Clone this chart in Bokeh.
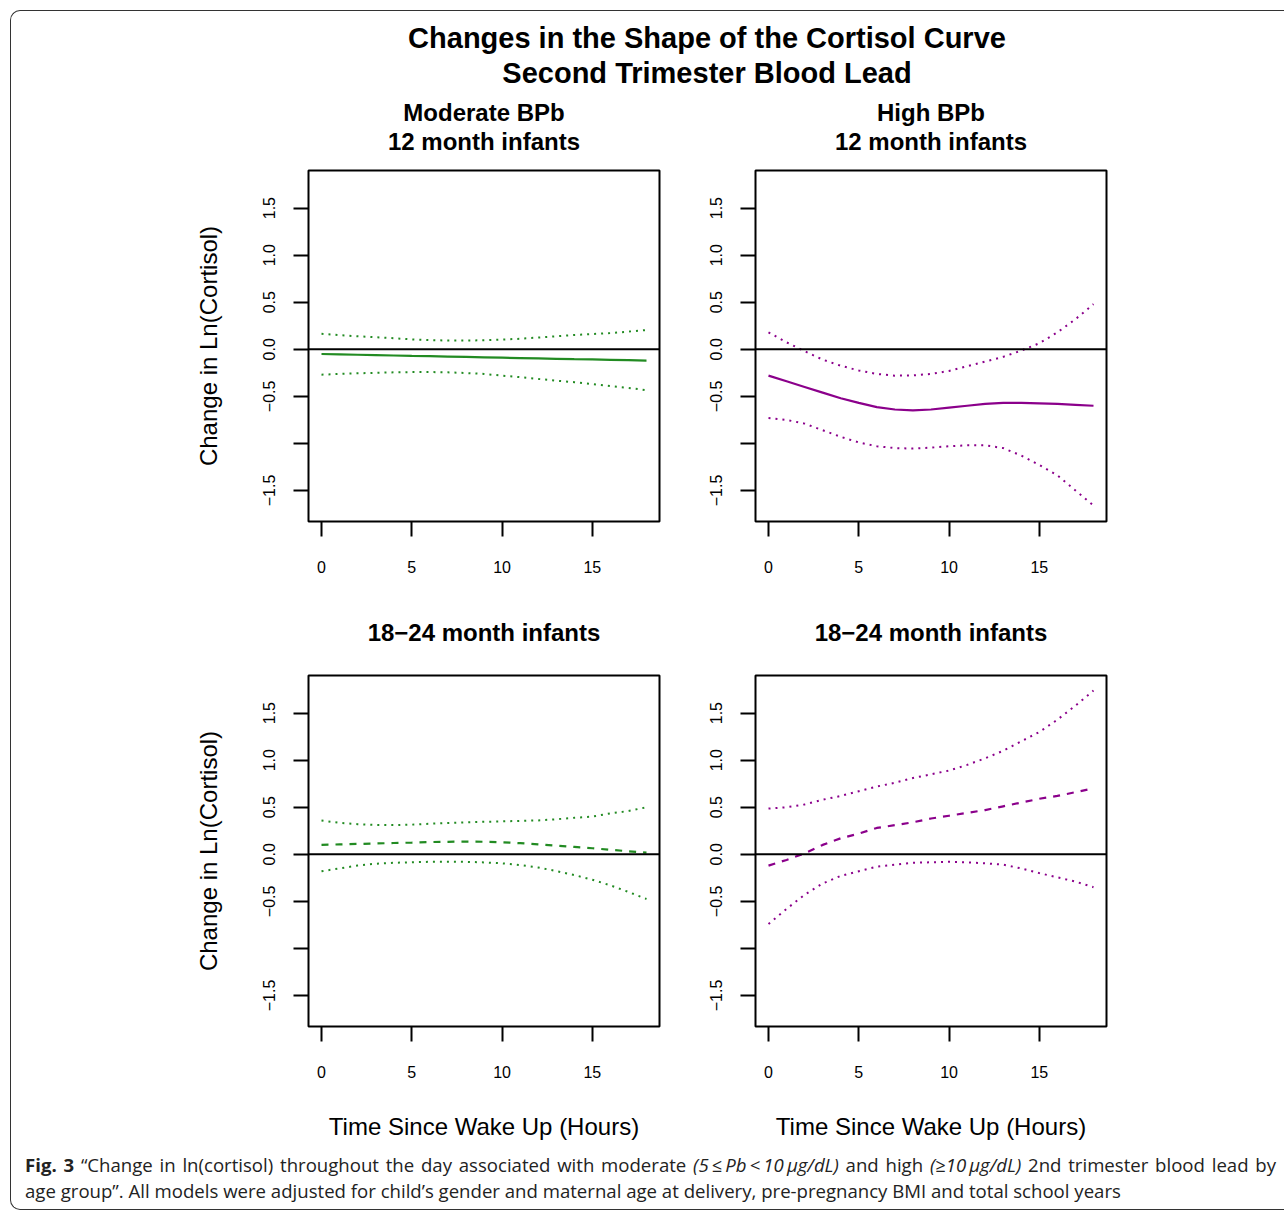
from bokeh.plotting import figure
from bokeh.models import Range1d, Title, Div, FixedTicker, Span
from bokeh.layouts import column, row
from bokeh.embed import file_html
from bokeh.resources import INLINE

# ---------------- data ----------------
hours = list(range(19))

# Moderate BPb, 12 month infants (green, solid fit)
mod12_fit = [-0.050, -0.054, -0.058, -0.062, -0.066, -0.070, -0.073, -0.077, -0.081, -0.085,
             -0.089, -0.093, -0.097, -0.101, -0.105, -0.108, -0.112, -0.116, -0.120]
mod12_hi = [0.165, 0.150, 0.138, 0.128, 0.118, 0.105, 0.098, 0.093, 0.093, 0.096,
            0.103, 0.112, 0.125, 0.138, 0.152, 0.162, 0.172, 0.188, 0.205]
mod12_lo = [-0.270, -0.262, -0.255, -0.250, -0.245, -0.242, -0.242, -0.245, -0.252, -0.262,
            -0.280, -0.296, -0.315, -0.333, -0.350, -0.370, -0.390, -0.410, -0.435]

# High BPb, 12 month infants (purple, solid fit)
high12_fit = [-0.280, -0.340, -0.400, -0.460, -0.520, -0.570, -0.615, -0.640, -0.650, -0.640,
              -0.620, -0.600, -0.580, -0.570, -0.570, -0.575, -0.580, -0.590, -0.600]
high12_hi = [0.180, 0.074, -0.020, -0.110, -0.175, -0.225, -0.262, -0.280, -0.278, -0.262,
             -0.230, -0.180, -0.130, -0.080, -0.014, 0.064, 0.180, 0.320, 0.480]
high12_lo = [-0.730, -0.750, -0.790, -0.860, -0.930, -0.990, -1.030, -1.050, -1.055, -1.045,
             -1.030, -1.020, -1.020, -1.050, -1.130, -1.230, -1.340, -1.500, -1.660]

# Moderate BPb, 18-24 month infants (green, dashed fit)
mod24_fit = [0.100, 0.105, 0.110, 0.115, 0.120, 0.124, 0.130, 0.133, 0.135, 0.133,
             0.128, 0.118, 0.106, 0.092, 0.078, 0.064, 0.048, 0.032, 0.018]
mod24_hi = [0.358, 0.335, 0.320, 0.312, 0.310, 0.315, 0.325, 0.333, 0.340, 0.345,
            0.350, 0.355, 0.360, 0.372, 0.388, 0.400, 0.435, 0.460, 0.500]
mod24_lo = [-0.180, -0.150, -0.120, -0.100, -0.090, -0.085, -0.080, -0.078, -0.080, -0.086,
            -0.096, -0.115, -0.140, -0.178, -0.220, -0.270, -0.330, -0.400, -0.475]

# High BPb, 18-24 month infants (purple, dashed fit)
high24_fit = [-0.120, -0.060, 0.010, 0.100, 0.170, 0.220, 0.280, 0.310, 0.340, 0.380,
              0.410, 0.440, 0.470, 0.510, 0.550, 0.590, 0.620, 0.660, 0.700]
high24_hi = [0.486, 0.500, 0.530, 0.580, 0.620, 0.670, 0.720, 0.760, 0.810, 0.850,
             0.890, 0.950, 1.020, 1.100, 1.200, 1.300, 1.430, 1.580, 1.740]
high24_lo = [-0.740, -0.580, -0.430, -0.310, -0.230, -0.180, -0.130, -0.110, -0.090, -0.085,
             -0.080, -0.085, -0.096, -0.110, -0.150, -0.200, -0.245, -0.290, -0.350]

y_ticks = [-1.5, -1.0, -0.5, 0.0, 0.5, 1.0, 1.5]
y_tick_labels = ["\u22121.5", "", "\u22120.5", "0.0", "0.5", "1.0", "1.5"]
x_ticks = [0, 5, 10, 15]

title_main = ["Changes in the Shape of the Cortisol Curve", "Second Trimester Blood Lead"]
y_label = "Change in Ln(Cortisol)"
x_label = "Time Since Wake Up (Hours)"

GREEN = "#228B22"
PURPLE = "#8B008B"
FONT = "Liberation Sans"


def add_title(p, text, standoff, size="24px"):
    p.add_layout(Title(text=text, align="center", text_font=FONT, text_font_size=size,
                       text_font_style="bold", text_color="black", standoff=standoff), "above")


def panel(titles, fit, lo, hi, color, fit_dash, ylab, xlab, left, right, bottom):
    p = figure(frame_width=351, frame_height=351, output_backend="svg", toolbar_location=None,
               x_range=Range1d(-0.72, 18.72), y_range=Range1d(-1.83, 1.90),
               min_border_left=left, min_border_right=right,
               min_border_top=0, min_border_bottom=bottom,
               background_fill_color="white", border_fill_color=None)
    if len(titles) == 2:
        # small blank spacer between frame and the two title lines
        add_title(p, " ", 13, size="1px")
        add_title(p, titles[1], 0)
        add_title(p, titles[0], 0)
    else:
        add_title(p, titles[0], 60)
    p.grid.visible = False
    p.outline_line_color = "black"
    p.outline_line_width = 2
    p.outline_line_alpha = 1.0

    p.yaxis.ticker = FixedTicker(ticks=y_ticks)
    p.yaxis.major_label_overrides = {t: l for t, l in zip(y_ticks, y_tick_labels)}
    p.yaxis.major_label_orientation = "vertical"
    p.xaxis.ticker = FixedTicker(ticks=x_ticks)
    for ax in (p.xaxis[0], p.yaxis[0]):
        ax.axis_line_color = None
        ax.major_tick_in = 0
        ax.major_tick_out = 15
        ax.major_tick_line_width = 2
        ax.major_tick_line_color = "black"
        ax.minor_tick_line_color = None
        ax.major_label_text_font = FONT
        ax.major_label_text_font_size = "16px"
        ax.major_label_text_color = "black"
        ax.axis_label_text_font = FONT
        ax.axis_label_text_font_size = "24px"
        ax.axis_label_text_font_style = "normal"
        ax.axis_label_text_color = "black"
    p.xaxis.major_label_standoff = 24
    p.yaxis.major_label_standoff = 18
    if ylab:
        p.yaxis.axis_label = ylab
        p.yaxis.axis_label_standoff = 39
    if xlab:
        p.xaxis.axis_label = xlab
        p.xaxis.axis_label_standoff = 32

    p.add_layout(Span(location=0, dimension="width", line_color="black", line_width=2))
    p.line(hours, hi, line_color=color, line_width=2, line_dash="2 5")
    p.line(hours, lo, line_color=color, line_width=2, line_dash="2 5")
    p.line(hours, fit, line_color=color, line_width=2.2, line_dash=fit_dash)
    return p


p1 = panel(["Moderate BPb", "12 month infants"], mod12_fit, mod12_lo, mod12_hi, GREEN,
           "solid", y_label, None, 297, 36, 65)
p2 = panel(["High BPb", "12 month infants"], high12_fit, high12_lo, high12_hi, PURPLE,
           "solid", None, None, 60, 178, 65)
p3 = panel(["18\u221224 month infants"], mod24_fit, mod24_lo, mod24_hi, GREEN,
           "7 7", y_label, x_label, 297, 36, 119)
p4 = panel(["18\u221224 month infants"], high24_fit, high24_lo, high24_hi, PURPLE,
           "7 7", None, x_label, 60, 178, 119)

head = Div(width=1273, height=85, margin=0, styles={"overflow": "visible"}, text=(
    "<div style=\"box-sizing:border-box;width:1273px;padding-top:10px;padding-left:119px;"
    "text-align:center;font-family:'Liberation Sans';font-weight:bold;font-size:29px;"
    "line-height:35px;color:#000;white-space:nowrap;\">" + title_main[0] + "<br>" + title_main[1] + "</div>"))

caption = Div(width=1273, height=64, margin=0, styles={"overflow": "visible"}, text=(
    "<div style=\"padding:7px 0 0 14px;font-family:'Open Sans';font-size:18.6px;line-height:26px;"
    "white-space:nowrap;color:#222;\">"
    "<div style=\"width:1251px;text-align:justify;text-align-last:justify;\">"
    "<b>Fig. 3</b> \u201cChange in ln(cortisol) throughout the day "
    "associated with moderate <i>(5\u2009\u2264\u2009Pb\u2009&lt;\u200910\u2009\u03bcg/dL)</i> and high "
    "<i>(\u226510\u2009\u03bcg/dL)</i> 2nd trimester blood lead by</div>"
    "<div>age group\u201d. All models were "
    "adjusted for child\u2019s gender and maternal age at delivery, pre-pregnancy BMI and total "
    "school years</div></div>"))

layout = column(head, row(p1, p2), row(p3, p4), caption, margin=(10, 0, 0, 10),
                styles={"border-left": "1px solid #333", "border-top": "1px solid #333",
                        "border-bottom": "1px solid #333",
                        "border-top-left-radius": "10px", "border-bottom-left-radius": "10px"})

open("out.html", "w").write(file_html(layout, INLINE))
